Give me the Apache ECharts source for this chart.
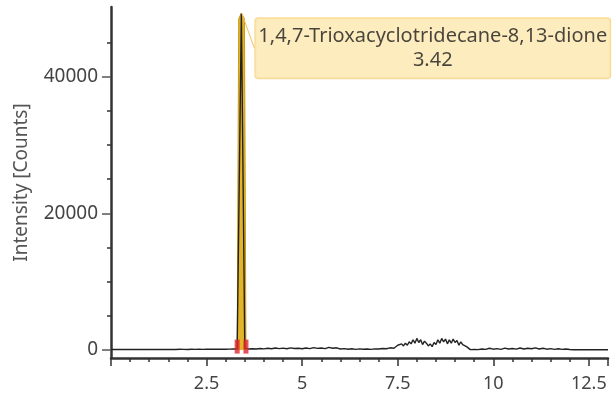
<!DOCTYPE html>
<html>
<head>
<meta charset="utf-8">
<script src="https://cdn.jsdelivr.net/npm/echarts@6/dist/echarts.min.js"></script>
<style>
  html, body { margin: 0; padding: 0; background: #fff; }
  #chart { width: 612px; height: 400px; }
</style>
</head>
<body>
<div id="chart"></div>
<script>
// retention time (min) and intensity (counts) of the trace
const rtMin = [
  0.0, 0.1, 0.2, 0.3, 0.4, 0.5, 0.6, 0.7, 0.8, 0.9, 1.0, 1.1, 1.2, 1.3, 1.4, 1.5, 1.6, 1.7, 1.8, 1.9,
  2.0, 2.1, 2.2, 2.3, 2.4, 2.5, 2.6, 2.7, 2.8, 2.9, 3.0, 3.1, 3.2, 3.3,
  3.41, 3.43,
  3.5, 3.6, 3.7, 3.8, 3.9, 4.0, 4.1, 4.2, 4.3, 4.4, 4.5, 4.6, 4.7, 4.8, 4.9, 5.0, 5.1, 5.2, 5.3, 5.4,
  5.5, 5.6, 5.7, 5.8, 5.9, 6.0, 6.1, 6.2, 6.3, 6.4, 6.5, 6.6, 6.7, 6.8, 6.9, 7.0, 7.1, 7.2, 7.3, 7.4,
  7.5, 7.55, 7.6, 7.65, 7.7, 7.75, 7.8, 7.85, 7.9, 7.95, 8.0, 8.05, 8.1, 8.15, 8.2, 8.25, 8.3, 8.35, 8.4, 8.45,
  8.5, 8.55, 8.6, 8.65, 8.7, 8.75, 8.8, 8.85, 8.9, 8.95, 9.0, 9.05, 9.1, 9.15, 9.2, 9.25, 9.3, 9.35,
  9.4, 9.5, 9.6, 9.7, 9.8, 9.9, 10.0, 10.1, 10.2, 10.3, 10.4, 10.5, 10.6, 10.7, 10.8, 10.9, 11.0, 11.1, 11.2, 11.3,
  11.4, 11.5, 11.6, 11.7, 11.8, 11.9, 12.0, 12.1, 12.5, 13.0
];
const counts = [
  80, 80, 90, 80, 80, 90, 80, 80, 90, 80, 80, 90, 80, 80, 90, 80, 90, 80, 100, 90,
  80, 100, 90, 100, 90, 100, 110, 100, 120, 110, 120, 130, 140, 150,
  49300, 49300,
  200, 150, 180, 140, 220, 160, 250, 180, 300, 200, 280, 180, 320, 220, 260, 180, 300, 200, 350, 240,
  300, 200, 380, 260, 320, 150, 200, 120, 180, 100, 160, 110, 150, 100, 170, 140, 220, 180, 320, 250,
  700, 500, 900, 600, 1000, 700, 1200, 900, 1500, 1000, 1700, 1100, 1500, 800, 1300, 1000, 600, 900, 500, 1100,
  800, 1500, 1000, 1700, 1200, 1600, 900, 1500, 1000, 1600, 1100, 1400, 700, 1200, 800, 900, 500, 300,
  50, 80, 60, 150, 100, 250, 120, 200, 100, 280, 150, 220, 130, 300, 150, 250, 180, 320, 150, 250,
  120, 200, 100, 180, 90, 150, 80, 30, 30, 30
];

// integrated peak
const peakRt = [3.30, 3.34, 3.41, 3.45, 3.49, 3.53];
const peakCounts = [150, 48500, 49300, 49300, 48500, 150];
const peakName = '1,4,7-Trioxacyclotridecane-8,13-dione';
const peakApex = [3.42, 49300];
const peakLabel = '3.42';
const integrationMarks = [[3.30, 500], [3.53, 500]];

const xTicks = [2.5, 5, 7.5, 10, 12.5];
const yLabelValues = [0, 20000, 40000];
const yMinorValues = [5000, 10000, 15000, 25000, 30000, 35000, 45000];

const font = 'Noto Sans';

const chart = echarts.init(document.getElementById('chart'));
chart.setOption({
  animation: false,
  grid: { left: 111, right: 4, top: 7, bottom: 42 },
  xAxis: {
    type: 'value',
    min: 0,
    max: 13,
    interval: 2.5,
    axisLine: { onZero: false, lineStyle: { color: '#333', width: 2.5 } },
    axisTick: { length: 8, lineStyle: { color: '#333', width: 1.5 } },
    minorTick: { show: true, splitNumber: 5, length: 4, lineStyle: { color: '#333', width: 1.5 } },
    splitLine: { show: false },
    axisLabel: {
      showMinLabel: false,
      showMaxLabel: false,
      color: '#444',
      fontFamily: font,
      fontSize: 18,
      margin: 17,
      formatter: (v) => (xTicks.indexOf(v) >= 0 ? String(v) : '')
    }
  },
  yAxis: [
    {
      type: 'value',
      min: -1170,
      max: 50200,
      name: 'Intensity [Counts]',
      nameLocation: 'middle',
      nameGap: 80,
      nameTextStyle: { color: '#555', fontFamily: font, fontSize: 19 },
      axisLine: { show: true, lineStyle: { color: '#333', width: 2.5 } },
      axisTick: { show: true, length: 9, customValues: yLabelValues, lineStyle: { color: '#555', width: 1.5 } },
      splitLine: { show: false },
      axisLabel: {
        customValues: yLabelValues,
        formatter: (v) => String(v),
        color: '#444',
        fontFamily: font,
        fontSize: 19,
        margin: 13
      }
    },
    {
      type: 'value',
      min: -1170,
      max: 50200,
      position: 'left',
      axisLine: { show: false },
      axisTick: { show: true, length: 4, customValues: yMinorValues, lineStyle: { color: '#333', width: 1.5 } },
      axisLabel: { show: false },
      splitLine: { show: false }
    }
  ],
  series: [
    {
      type: 'line',
      data: peakRt.map((t, i) => [t, peakCounts[i]]),
      symbol: 'none',
      lineStyle: { color: '#c99a10', width: 1 },
      areaStyle: { color: '#e2b42a', opacity: 1 },
      z: 2
    },
    {
      type: 'line',
      data: rtMin.map((t, i) => [t, counts[i]]),
      symbol: 'none',
      lineStyle: { color: '#222', width: 1.4 },
      z: 3
    },
    {
      type: 'scatter',
      data: integrationMarks,
      symbol: 'rect',
      symbolSize: [5, 14],
      itemStyle: { color: '#e0262a' },
      z: 4
    },
    {
      type: 'scatter',
      data: [peakApex],
      symbolSize: 0,
      z: 5,
      label: {
        show: true,
        position: 'right',
        formatter: peakName + '\n' + peakLabel,
        align: 'center',
        color: '#1a1a1a',
        fontFamily: font,
        fontSize: 20,
        lineHeight: 24,
        backgroundColor: '#fde7ad',
        borderColor: '#f4d07a',
        borderWidth: 1,
        borderRadius: 3,
        padding: [5, 3, 7, 3]
      },
      labelLayout: { dx: 186, dy: 35 },
      labelLine: { show: true, lineStyle: { color: '#f0c060', width: 1 } }
    }
  ]
});
</script>
</body>
</html>
